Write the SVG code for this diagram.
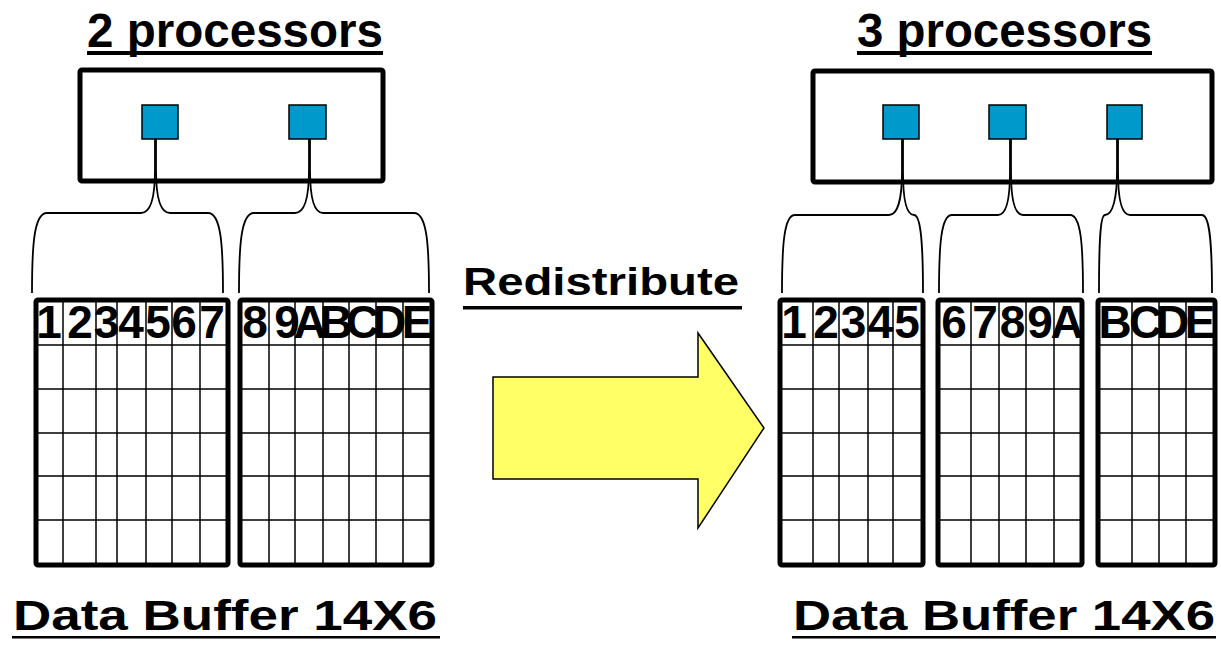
<svg xmlns="http://www.w3.org/2000/svg" width="1221" height="649" viewBox="0 0 1221 649">
<style>
.t{font-family:"Liberation Sans",Arial,sans-serif;font-weight:bold;fill:#000}
.h{font-size:46px;text-anchor:middle}
.box{fill:#fff;stroke:#000;stroke-width:5}
.cpu{fill:#0099CC;stroke:#000;stroke-width:1.5}
.grid{fill:none;stroke:#000;stroke-width:1.5}
.outer{fill:none;stroke:#000;stroke-width:5}
.brace{fill:none;stroke:#000;stroke-width:1.8}
</style>
<rect width="1221" height="649" fill="#fff"/>

<!-- titles -->
<g id="title-left">
<text class="t" x="87" y="47" font-size="48" textLength="296" lengthAdjust="spacingAndGlyphs">2 processors</text>
<rect x="87" y="51" width="296" height="4" fill="#000"/>
</g>
<g id="title-right">
<text class="t" x="857" y="47" font-size="48" textLength="295" lengthAdjust="spacingAndGlyphs">3 processors</text>
<rect x="857" y="51" width="295" height="4" fill="#000"/>
</g>

<!-- processor boxes -->
<g id="proc-box-left">
<rect class="box" x="80" y="70" width="303" height="111" rx="2"/>
<rect class="cpu" x="142" y="105" width="36" height="34"/>
<rect class="cpu" x="289" y="105" width="37" height="34"/>
</g>
<g id="proc-box-right">
<rect class="box" x="813" y="71" width="399" height="111" rx="2"/>
<rect class="cpu" x="883" y="105" width="36" height="34"/>
<rect class="cpu" x="989" y="105" width="37" height="34"/>
<rect class="cpu" x="1107" y="105" width="35" height="34"/>
</g>

<!-- connectors (braces) -->
<g id="connectors">
<path class="brace" d="M32,293 C32,245 34,213 47,213 L141,213 C151,213 155,195 155,170 L155,139"/>
<path class="brace" d="M223,293 C223,245 221,213 208,213 L170,213 C160,213 156,195 156,170 L156,139"/>
<path class="brace" d="M239,293 C239,245 241,213 254,213 L295,213 C305,213 309,195 309,170 L309,139"/>
<path class="brace" d="M429,293 C429,245 427,213 414,213 L323,213 C313,213 310,195 310,170 L310,139"/>
<path class="brace" d="M782,293 C782,245 784,215 795,215 L889,215 C898,215 902,197 902,172 L902,139"/>
<path class="brace" d="M923,293 C923,245 921,215 914,215 C906,215 903,197 903,172 L903,139"/>
<path class="brace" d="M939,293 C939,245 941,215 952,215 L998,215 C1007,215 1010,197 1010,172 L1010,139"/>
<path class="brace" d="M1083,293 C1083,245 1081,215 1070,215 L1023,215 C1014,215 1011,197 1011,172 L1011,139"/>
<path class="brace" d="M1099,293 C1099,245 1100,215 1105,215 C1113,215 1117,197 1117,172 L1117,139"/>
<path class="brace" d="M1212,293 C1212,245 1210,215 1202,215 L1130,215 C1121,215 1118,197 1118,172 L1118,139"/>
</g>

<!-- grid left 1 -->
<g id="grid-left-1">
<path class="grid" d="M63,300V565M96,300V565M117,300V565M146,300V565M172,300V565M200,300V565M36,345H228M36,389H228M36,433H228M36,476H228M36,520H228"/>
<rect class="outer" x="36" y="300" width="192" height="265" rx="2"/>
<text class="t h" y="338"><tspan x="49">1</tspan><tspan x="80">2</tspan><tspan x="106.5">3</tspan><tspan x="131">4</tspan><tspan x="158">5</tspan><tspan x="184">6</tspan><tspan x="212">7</tspan></text>
</g>
<!-- grid left 2 -->
<g id="grid-left-2">
<path class="grid" d="M269,300V565M295,300V565M323,300V565M349,300V565M376,300V565M403,300V565M240,345H432M240,389H432M240,433H432M240,476H432M240,520H432"/>
<rect class="outer" x="240" y="300" width="192" height="265" rx="2"/>
<text class="t h" y="338"><tspan x="255">8</tspan><tspan x="287">9</tspan><tspan x="310">A</tspan><tspan x="336">B</tspan><tspan x="362.5">C</tspan><tspan x="389.5">D</tspan><tspan x="417">E</tspan></text>
</g>

<!-- arrow -->
<g id="redistribute">
<text class="t" x="463" y="295" font-size="38" textLength="276" lengthAdjust="spacingAndGlyphs">Redistribute</text>
<rect x="463" y="306" width="279" height="3.5" fill="#000"/>
<polygon points="493,377 698,377 698,333 764,428 698,528 698,479 493,479" fill="#FFFF66" stroke="#000" stroke-width="1.5" stroke-linejoin="miter"/>
</g>

<!-- grid right 1 -->
<g id="grid-right-1">
<path class="grid" d="M813,300V565M839,300V565M868,300V565M893,300V565M780,345H923M780,389H923M780,433H923M780,476H923M780,520H923"/>
<rect class="outer" x="780" y="300" width="143" height="265" rx="2"/>
<text class="t h" y="338"><tspan x="794">1</tspan><tspan x="826">2</tspan><tspan x="853.5">3</tspan><tspan x="880.5">4</tspan><tspan x="907">5</tspan></text>
</g>
<!-- grid right 2 -->
<g id="grid-right-2">
<path class="grid" d="M971,300V565M999,300V565M1026,300V565M1054,300V565M938,345H1082M938,389H1082M938,433H1082M938,476H1082M938,520H1082"/>
<rect class="outer" x="938" y="300" width="144" height="265" rx="2"/>
<text class="t h" y="338"><tspan x="954">6</tspan><tspan x="985">7</tspan><tspan x="1012.5">8</tspan><tspan x="1040">9</tspan><tspan x="1067">A</tspan></text>
</g>
<!-- grid right 3 -->
<g id="grid-right-3">
<path class="grid" d="M1132,300V565M1159,300V565M1186,300V565M1098,345H1215M1098,389H1215M1098,433H1215M1098,476H1215M1098,520H1215"/>
<rect class="outer" x="1098" y="300" width="117" height="265" rx="2"/>
<text class="t h" y="338"><tspan x="1115">B</tspan><tspan x="1145.5">C</tspan><tspan x="1172.5">D</tspan><tspan x="1200">E</tspan></text>
</g>

<!-- bottom labels -->
<g id="label-left">
<text class="t" x="13" y="630" font-size="42" textLength="424" lengthAdjust="spacingAndGlyphs">Data Buffer 14X6</text>
<rect x="12" y="636" width="428" height="2.5" fill="#000"/>
</g>
<g id="label-right">
<text class="t" x="793" y="630" font-size="42" textLength="422" lengthAdjust="spacingAndGlyphs">Data Buffer 14X6</text>
<rect x="792" y="636" width="424" height="2.5" fill="#000"/>
</g>
</svg>
